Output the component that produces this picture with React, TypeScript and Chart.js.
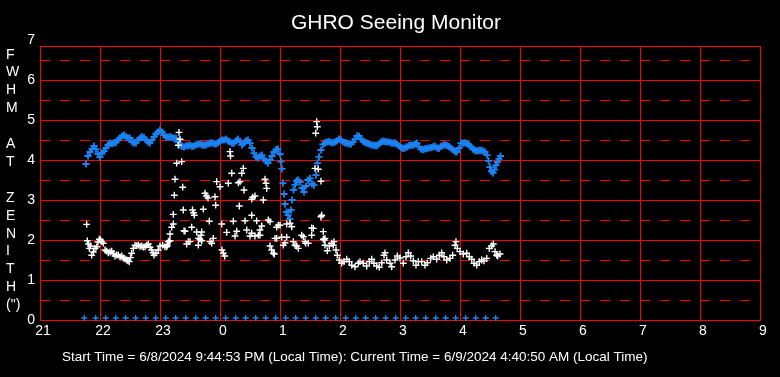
import React, { useEffect, useRef } from "react";
import { Chart, registerables } from "chart.js";

Chart.register(...registerables);

// ---------- text ----------
const TITLE = "GHRO Seeing Monitor";
const FOOTER =
  "Start Time = 6/8/2024 9:44:53 PM (Local Time): Current Time = 6/9/2024 4:40:50 AM (Local Time)";
const Y_TITLE_ROWS = ["F", "W", "H", "M", "", "A", "T", "", "Z", "E", "N", "I", "T", "H", "(\")"];

// ---------- axes ----------
const START_HOUR = 21; // x = minutes after 21:00
const X_MIN = 0;
const X_MAX = 720; // 21 .. 9
const X_STEP = 60;
const Y_MIN = 0;
const Y_MAX = 6.85;
const Y_TICKS = [0, 1, 2, 3, 4, 5, 6, 7];

// ---------- data: [minutes after 21:00, FWHM arcsec] ----------
const fwhmZenith: [number, number][] = [
  [46, 3.9], [48, 4.1], [50, 4.2], [52, 4.28], [54, 4.35], [56, 4.27], [58, 4.15], [60, 4.07],
  [62, 4.18], [64, 4.22], [66, 4.3], [68, 4.38], [70, 4.42], [72, 4.41], [74, 4.43], [76, 4.44],
  [78, 4.5], [80, 4.55], [82, 4.6], [84, 4.62], [86, 4.58], [88, 4.55], [90, 4.55], [92, 4.45],
  [94, 4.43], [96, 4.43], [98, 4.5], [100, 4.55], [102, 4.58], [104, 4.56], [106, 4.5], [108, 4.45],
  [110, 4.43], [112, 4.5], [114, 4.58], [116, 4.65], [118, 4.7], [120, 4.75], [122, 4.7], [124, 4.62],
  [126, 4.58], [128, 4.57], [130, 4.58], [132, 4.56], [134, 4.55], [136, 4.55], [138, 4.45], [140, 4.37],
  [142, 4.34], [144, 4.33], [146, 4.35], [148, 4.36], [150, 4.37], [152, 4.34], [154, 4.35], [156, 4.38],
  [158, 4.4], [160, 4.4], [162, 4.38], [164, 4.37], [166, 4.38], [168, 4.4], [170, 4.42], [172, 4.43],
  [174, 4.41], [176, 4.4], [178, 4.43], [180, 4.47], [182, 4.5], [184, 4.5], [186, 4.52], [188, 4.48],
  [190, 4.45], [192, 4.42], [194, 4.42], [196, 4.48], [198, 4.52], [200, 4.45], [202, 4.38], [204, 4.42],
  [206, 4.48], [208, 4.5], [210, 4.42], [212, 4.3], [214, 4.17], [216, 4.08], [218, 4.05], [220, 4.1],
  [222, 4.12], [224, 4.03], [226, 3.97], [228, 3.92], [230, 4.0], [232, 4.1], [234, 4.2], [236, 4.26],
  [238, 4.27], [240, 4.15], [241, 3.96], [242, 3.78], [243, 3.42], [244, 3.15], [245, 2.9], [246.5, 2.7],
  [248, 2.62], [250, 2.52], [251, 2.75], [252, 3.0], [253.5, 3.25], [255, 3.38], [256.5, 3.48], [258, 3.5],
  [260, 3.45], [262, 3.3], [264, 3.2], [266, 3.35], [268, 3.5], [270, 3.54], [272, 3.4], [274, 3.37],
  [276, 3.62], [277.5, 3.92], [279, 4.08], [281, 4.25], [283, 4.39], [285, 4.43], [287, 4.45], [289, 4.46],
  [291, 4.44], [293, 4.43], [295, 4.45], [297, 4.48], [299, 4.52], [301, 4.5], [303, 4.45], [305, 4.43],
  [307, 4.42], [309, 4.4], [311, 4.4], [313, 4.45], [315, 4.52], [317, 4.6], [319, 4.6], [321, 4.52],
  [323, 4.47], [325, 4.44], [327, 4.42], [329, 4.4], [331, 4.38], [333, 4.37], [335, 4.36], [337, 4.36],
  [339, 4.4], [341, 4.45], [343, 4.47], [345, 4.46], [347, 4.45], [349, 4.45], [351, 4.43], [353, 4.42],
  [355, 4.43], [357, 4.4], [359, 4.35], [361, 4.31], [363, 4.29], [365, 4.3], [367, 4.33], [369, 4.36],
  [371, 4.37], [373, 4.37], [375, 4.4], [377, 4.42], [379, 4.33], [381, 4.27], [383, 4.26], [385, 4.28],
  [387, 4.29], [389, 4.3], [391, 4.31], [393, 4.33], [395, 4.34], [397, 4.3], [399, 4.29], [401, 4.34],
  [403, 4.37], [405, 4.38], [407, 4.36], [409, 4.34], [411, 4.3], [413, 4.25], [415, 4.21], [417, 4.2],
  [419, 4.3], [421, 4.42], [423, 4.42], [425, 4.43], [427, 4.41], [429, 4.38], [431, 4.33], [433, 4.27],
  [435, 4.24], [437, 4.23], [439, 4.24], [441, 4.24], [443, 4.23], [445, 4.2], [447, 4.12], [448.5, 3.98],
  [450, 3.82], [451.5, 3.72], [453, 3.68], [454.5, 3.76], [456, 3.87], [457.5, 3.95], [459, 4.03], [460.5, 4.1],
];

const fwhmRaw: [number, number][] = [
  [46.7, 2.39], [47.3, 1.98], [48.5, 1.9], [49.3, 1.79], [50.5, 1.85], [51.7, 1.62], [53.3, 1.7], [55, 1.79],
  [56.7, 1.83], [58, 1.95], [59.3, 2.02], [60.5, 2.0], [61.7, 1.96], [63.3, 1.92], [65, 1.75], [66.7, 1.72],
  [68.3, 1.68], [70, 1.7], [71.7, 1.72], [73.3, 1.66], [75, 1.6], [76.7, 1.63], [78.3, 1.62], [80, 1.58],
  [81.7, 1.6], [83.3, 1.55], [85, 1.53], [86.7, 1.5], [88, 1.48], [89.3, 1.46], [90.5, 1.56], [91.7, 1.67],
  [93.3, 1.79], [95, 1.87], [96.7, 1.86], [98.3, 1.87], [100, 1.84], [101.7, 1.85], [103.3, 1.82], [105, 1.83],
  [106.7, 1.87], [108.3, 1.9], [110, 1.82], [111.7, 1.75], [113, 1.68], [114, 1.62], [116, 1.67], [118.3, 1.75],
  [120, 1.85], [122.7, 1.87], [125, 1.83], [127.3, 1.87], [129.3, 1.98],
  [139, 4.69], [140, 4.52], [138.3, 4.37], [136.7, 3.92], [141.7, 3.96], [135, 3.52], [142.7, 3.32], [134.3, 3.12],
  [165, 3.17], [166.5, 3.1], [168, 3.05], [176.7, 3.46], [180, 3.33], [188.3, 3.42], [191.7, 3.67], [201.7, 3.67],
  [203.3, 3.79], [190, 4.21], [190.5, 4.1], [200, 3.46], [204, 3.25], [212.7, 3.07], [215, 3.1], [223.3, 3.0],
  [225, 3.52], [226.7, 3.29], [226, 3.42], [198.3, 3.43], [175, 3.08], [133.3, 2.64], [143.3, 2.75], [152.5, 2.75],
  [153.5, 2.68], [154.3, 2.62], [163.3, 2.77], [175.7, 2.87], [199.3, 2.85], [211.7, 2.62], [133.3, 2.4], [131.7, 2.32],
  [145, 2.22], [151.7, 2.32], [156.7, 2.2], [161.7, 2.2], [161, 2.12], [169.3, 2.47], [181.7, 2.4], [186.7, 2.19],
  [193.3, 2.47], [196.7, 2.22], [195, 2.1], [205, 2.48], [206.7, 2.25], [210, 2.1], [216.7, 2.48], [221.7, 2.35],
  [220, 2.12], [228.3, 2.5], [130, 2.15], [130, 1.98], [126.7, 1.83], [128.3, 1.96], [146.7, 1.9], [148.3, 1.96],
  [150, 1.96], [158.3, 1.87], [158.3, 2.04], [160, 2.02], [161.7, 1.98], [173.3, 2.04], [171.7, 1.92], [170, 1.96],
  [182, 1.75], [183.3, 1.67], [184.7, 1.6], [144, 2.23],
  [276.7, 4.96], [277.3, 4.83], [275.7, 4.67], [211.7, 3.02], [275, 3.79], [278.3, 3.77], [281, 3.47], [281, 2.58],
  [220, 2.25], [218.3, 2.12], [230, 2.46], [236.7, 2.32], [238.3, 2.37], [240, 2.37], [246.7, 2.4], [250, 2.42],
  [251.7, 2.33], [236.7, 2.04], [241.7, 2.07], [246.7, 2.07], [261.7, 2.12], [263.3, 2.08], [271.7, 2.12], [273.3, 2.29],
  [283.3, 2.21], [281.7, 2.62], [285, 2.04], [284.3, 2.0], [211.7, 2.17], [215, 2.1], [230, 1.85], [231.7, 1.75],
  [233.3, 1.67], [234.3, 1.65], [235, 2.04], [243.3, 1.87], [245, 1.93], [253.3, 1.96], [255, 1.87], [256.7, 1.85],
  [258.3, 1.79], [265, 1.96], [265.7, 1.92], [268.3, 1.92], [271.7, 2.3],
  [283.3, 2.02], [285, 1.87], [287.3, 1.73], [289.3, 1.85], [291.7, 1.92], [294, 1.96], [293.3, 1.87], [296, 1.75],
  [297.3, 1.62], [299.3, 1.5], [301.7, 1.42], [304, 1.46], [306.7, 1.52], [309.3, 1.46], [311.7, 1.37], [315, 1.33],
  [318.3, 1.42], [320, 1.46], [323.3, 1.42], [326.7, 1.35], [329.3, 1.46], [331.7, 1.52], [334, 1.42], [336.7, 1.35],
  [339.3, 1.32], [341.7, 1.43], [344, 1.62], [345, 1.68], [346.7, 1.5], [350, 1.42], [351.7, 1.33], [355, 1.5],
  [357.3, 1.6], [360, 1.55], [363.3, 1.42], [366, 1.58], [368.3, 1.68], [370.7, 1.6], [373.3, 1.48], [376, 1.37],
  [378.3, 1.46], [381.7, 1.46], [385, 1.37], [387.3, 1.43], [390.7, 1.54], [393.3, 1.58], [396.7, 1.52], [399.3, 1.62],
  [401.7, 1.68], [404, 1.58], [406.7, 1.5], [410, 1.54], [412.7, 1.62], [415, 1.87], [416, 1.96], [417.3, 1.79],
  [420, 1.71], [423.3, 1.65], [426.7, 1.67], [429.3, 1.58], [431.7, 1.52], [434, 1.42], [436.7, 1.37], [439.3, 1.46],
  [441.7, 1.5], [444, 1.48], [446.7, 1.54], [449.3, 1.79], [451.7, 1.85], [453.3, 1.9], [455, 1.71], [456.7, 1.62],
  [457.7, 1.6], [460, 1.65],
];

// times (minutes after 21:00) of the zero-valued samples along the bottom
const zeroTimes: number[] = [
  44.3, 55.7, 65.7, 75.7, 85.7, 95.7, 105.7, 115.7, 125.7, 135.7, 145.7, 155.7, 165.7, 175.7,
  185.7, 195.7, 205.7, 215.7, 225.7, 235.7, 245.7, 255.7, 265.7, 275.7, 285.7, 295.7, 305.7,
  315.7, 325.7, 335.7, 345.7, 355.7, 365.7, 375.7, 385.7, 395.7, 405.7, 415.7, 425.7, 435.7,
  445.7, 455.7,
];
const zeroValue = 0.05;

// ---------- style ----------
const FONT = "'Liberation Sans', Arial, Helvetica, sans-serif";
const RED = "#ff0000";
const BLUE = "#1a84f5";
const WHITE = "#ffffff";

const gridPlugin = {
  id: "seeingGrid",
  beforeDraw(chart: any) {
    const { ctx, width, height } = chart;
    ctx.save();
    ctx.fillStyle = "#000";
    ctx.fillRect(0, 0, width, height);
    ctx.restore();
  },
  beforeDatasetsDraw(chart: any) {
    const { ctx, chartArea } = chart;
    const { left, right, top, bottom } = chartArea;
    const xs = chart.scales.x;
    const ys = chart.scales.y;
    const snap = (p: number) => Math.round(p) + 0.5;
    ctx.save();
    ctx.strokeStyle = RED;
    ctx.lineWidth = 1;
    // dashed half-unit lines
    ctx.setLineDash([10, 10]);
    ys.ticks.forEach((t: any) => {
      const v = t.value + 0.5;
      if (v >= Y_MAX) return;
      const py = snap(ys.getPixelForValue(v));
      ctx.beginPath();
      ctx.moveTo(left, py);
      ctx.lineTo(right, py);
      ctx.stroke();
    });
    ctx.setLineDash([]);
    // solid integer lines
    ys.ticks.forEach((t: any) => {
      if (t.value >= Y_MAX) return;
      const py = snap(ys.getPixelForValue(t.value));
      ctx.beginPath();
      ctx.moveTo(left, py);
      ctx.lineTo(right, py);
      ctx.stroke();
    });
    xs.ticks.forEach((t: any) => {
      const px = snap(xs.getPixelForValue(t.value));
      ctx.beginPath();
      ctx.moveTo(px, top);
      ctx.lineTo(px, bottom);
      ctx.stroke();
    });
    // frame
    ctx.beginPath();
    ctx.moveTo(snap(left), snap(top));
    ctx.lineTo(snap(right), snap(top));
    ctx.lineTo(snap(right), snap(bottom));
    ctx.lineTo(snap(left), snap(bottom));
    ctx.closePath();
    ctx.stroke();
    ctx.restore();
  },
  afterDraw(chart: any) {
    const { ctx } = chart;
    ctx.save();
    ctx.fillStyle = WHITE;
    ctx.textBaseline = "alphabetic";
    // title
    ctx.font = `21px ${FONT}`;
    ctx.textAlign = "center";
    ctx.fillText(TITLE, 396, 29);
    // y axis title, one character per row
    ctx.font = `14px ${FONT}`;
    ctx.textAlign = "left";
    Y_TITLE_ROWS.forEach((ch, i) => {
      if (ch) ctx.fillText(ch, 6, 58.5 + i * 17.9);
    });
    // footer
    ctx.font = `13.5px ${FONT}`;
    ctx.fillText(FOOTER, 62, 360.5);
    ctx.restore();
  },
};

export default function App() {
  const canvasRef = useRef<HTMLCanvasElement | null>(null);

  useEffect(() => {
    const canvas = canvasRef.current;
    if (!canvas) return;
    const cross = (color: string, radius: number, width: number) => ({
      showLine: false,
      pointStyle: "cross" as const,
      pointRadius: radius,
      pointHoverRadius: radius,
      pointBorderWidth: width,
      pointBorderColor: color,
      pointBackgroundColor: color,
      borderColor: color,
      backgroundColor: color,
      clip: false as const,
    });
    const chart = new Chart(canvas, {
      type: "scatter",
      data: {
        datasets: [
          {
            label: "zero",
            data: zeroTimes.map((t) => ({ x: t, y: zeroValue })),
            ...cross(BLUE, 3, 1.4),
          },
          {
            label: "FWHM",
            data: fwhmRaw.map(([x, y]) => ({ x, y })),
            ...cross(WHITE, 3.4, 1.4),
          },
          {
            label: "FWHM at zenith",
            data: fwhmZenith.map(([x, y]) => ({ x, y })),
            ...cross(BLUE, 3.6, 1.8),
          },
        ],
      },
      options: {
        responsive: false,
        animation: false,
        events: [],
        layout: { padding: { top: 46, right: 20, left: 0, bottom: 0 } },
        plugins: {
          legend: { display: false },
          tooltip: { enabled: false },
          title: { display: false },
        },
        scales: {
          x: {
            type: "linear",
            min: X_MIN,
            max: X_MAX,
            grid: { display: false, drawTicks: false, tickLength: 0 },
            border: { display: false },
            ticks: {
              stepSize: X_STEP,
              autoSkip: false,
              maxRotation: 0,
              color: WHITE,
              font: { family: FONT, size: 14 },
              padding: 3,
              labelOffset: 3,
              callback: (v: any) => String((START_HOUR + Number(v) / 60) % 24),
            },
            afterFit: (s: any) => {
              s.height = 57;
            },
          },
          y: {
            type: "linear",
            min: Y_MIN,
            max: Y_MAX,
            grid: { display: false, drawTicks: false, tickLength: 0 },
            border: { display: false },
            ticks: {
              autoSkip: false,
              color: WHITE,
              font: { family: FONT, size: 14 },
              padding: 5,
              callback: (v: any) => String(v),
            },
            afterBuildTicks: (s: any) => {
              s.ticks = Y_TICKS.map((v) => ({ value: v }));
            },
            afterFit: (s: any) => {
              s.width = 40;
            },
          },
        },
      },
      plugins: [gridPlugin],
    } as any);
    return () => chart.destroy();
  }, []);

  return (
    <div style={{ position: "fixed", left: 0, top: 0, width: 780, height: 377, background: "#000" }}>
      <canvas ref={canvasRef} width={780} height={377} style={{ display: "block" }} />
    </div>
  );
}
